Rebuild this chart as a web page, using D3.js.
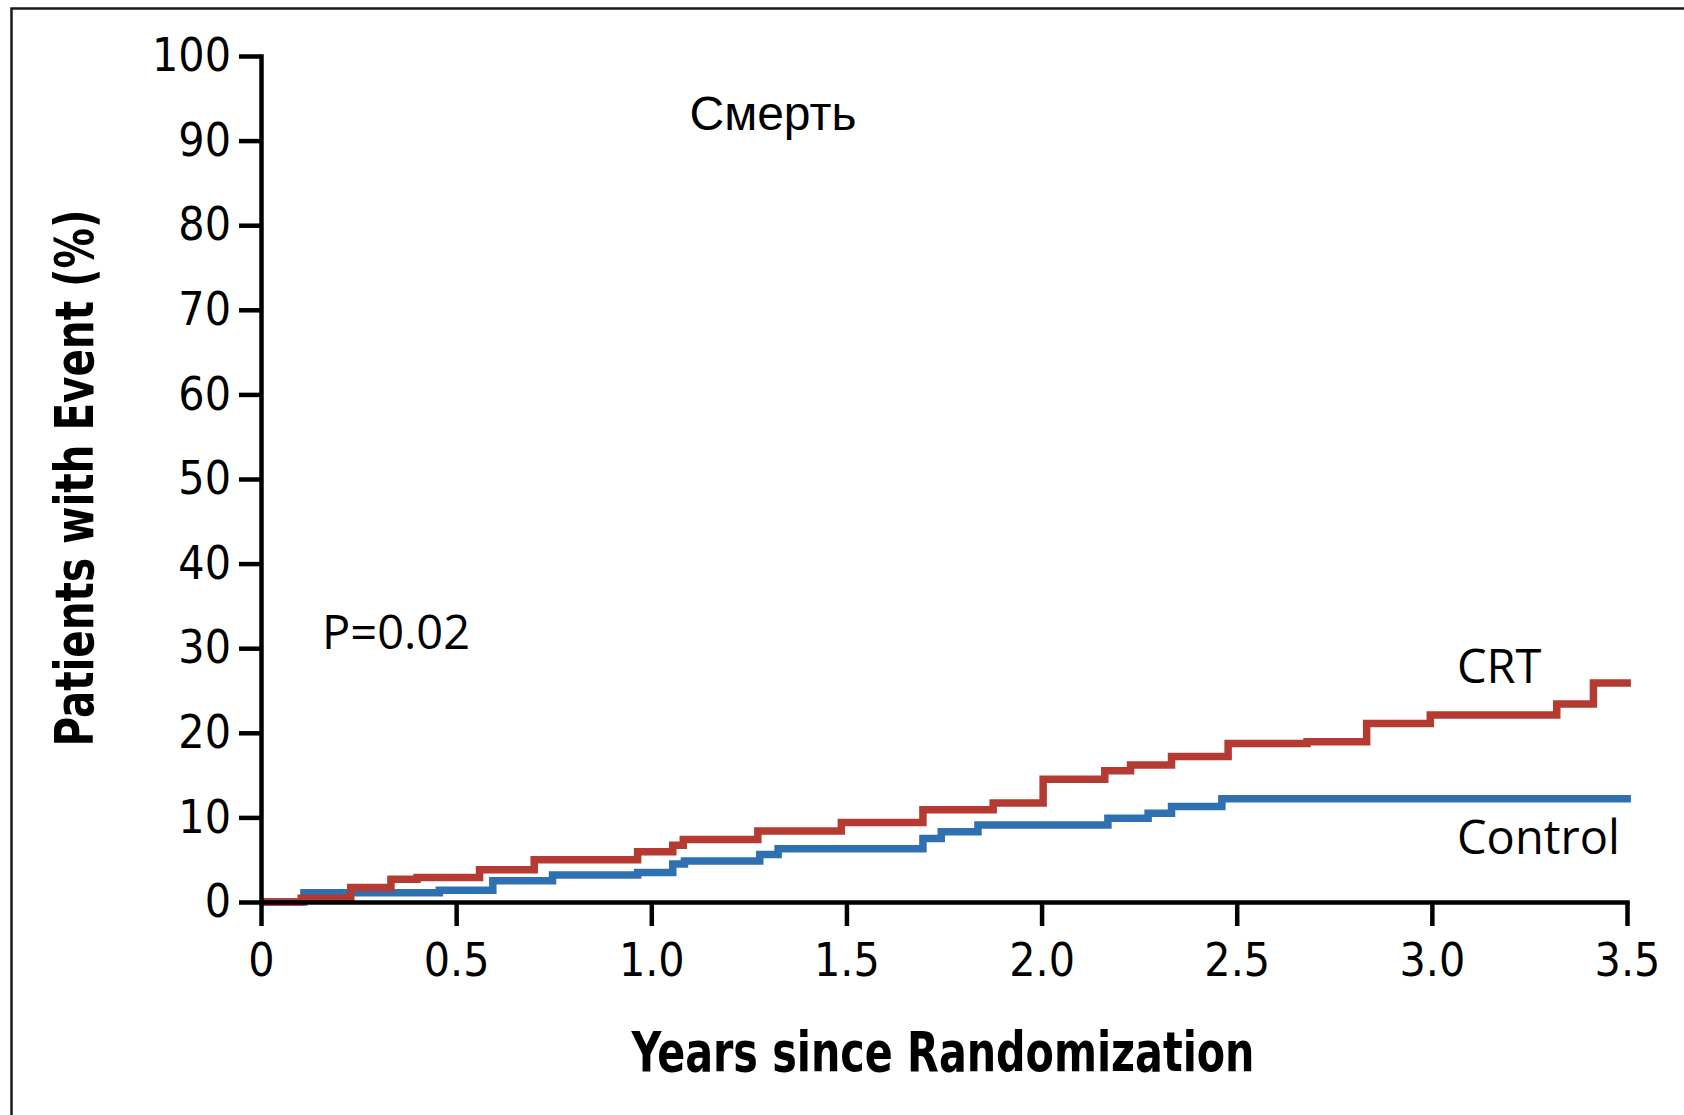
<!DOCTYPE html>
<html>
<head>
<meta charset="utf-8">
<script src="https://cdn.jsdelivr.net/npm/d3@7/dist/d3.min.js"></script>
<style>
  html, body { margin: 0; padding: 0; background: #fff; }
  svg { display: block; }
  .tick text { font-family: "DejaVu Sans Condensed", "DejaVu Sans", sans-serif; font-stretch: condensed; }
</style>
</head>
<body>
<svg id="chart" width="1684" height="1115"></svg>
<script>
// Cumulative event curves (Kaplan–Meier style steps): time in years, % of patients with event
const crtTimes   = [0, 0.103, 0.23, 0.333, 0.40, 0.56, 0.70, 0.965, 1.055, 1.082, 1.273, 1.487, 1.696, 1.876, 2.004, 2.162, 2.228, 2.333, 2.478, 2.68, 2.833, 2.996, 3.32, 3.414, 3.51];
const crtValues  = [0, 0.45, 1.7, 2.7, 2.9, 3.8, 5.0, 5.95, 6.7, 7.4, 8.4, 9.4, 10.9, 11.7, 14.5, 15.5, 16.2, 17.2, 18.75, 18.95, 21.1, 22.1, 23.4, 25.9, 25.9];
const controlTimes  = [0, 0.11, 0.457, 0.594, 0.747, 0.965, 1.055, 1.085, 1.278, 1.325, 1.696, 1.743, 1.837, 2.17, 2.273, 2.333, 2.462, 3.51];
const controlValues = [0, 1.1, 1.4, 2.5, 3.2, 3.5, 4.5, 4.85, 5.6, 6.3, 7.5, 8.3, 9.1, 9.9, 10.5, 11.3, 12.2, 12.2];

const xTicks = [0, 0.5, 1.0, 1.5, 2.0, 2.5, 3.0, 3.5];
const xTickLabels = ["0", "0.5", "1.0", "1.5", "2.0", "2.5", "3.0", "3.5"];
const yTicks = [0, 10, 20, 30, 40, 50, 60, 70, 80, 90, 100];

const seriesNames = ["CRT", "Control"];
const seriesColors = ["#b53a32", "#2f70b1"];

const svg = d3.select("#chart");

// frame (left and top edges)
svg.append("path")
  .attr("d", "M11.5,1115 L11.5,8.5 L1684,8.5")
  .attr("fill", "none").attr("stroke", "#1a1a1a").attr("stroke-width", 2.5);

const x = d3.scaleLinear().domain([0, 3.5]).range([261, 1627]);
const y = d3.scaleLinear().domain([0, 100]).range([902, 56]);

const line = d3.line()
  .x(d => x(d[0]))
  .y(d => y(d[1]))
  .curve(d3.curveStepAfter);

const series = [
  { name: seriesNames[1], color: seriesColors[1], pts: d3.zip(controlTimes, controlValues) },
  { name: seriesNames[0], color: seriesColors[0], pts: d3.zip(crtTimes, crtValues) }
];

svg.append("g").selectAll("path")
  .data(series)
  .join("path")
  .attr("d", d => line(d.pts))
  .attr("fill", "none")
  .attr("stroke", d => d.color)
  .attr("stroke-width", 7.5)
  .attr("stroke-linejoin", "miter")
  .attr("stroke-linecap", "butt");

// axes
const yAxis = d3.axisLeft(y).tickValues(yTicks).tickSize(22).tickSizeOuter(0).tickPadding(8);
const xAxis = d3.axisBottom(x).tickValues(xTicks).tickFormat((d, i) => xTickLabels[i]).tickSize(24).tickSizeOuter(0).tickPadding(17);

const gy = svg.append("g").attr("transform", "translate(261,0)").call(yAxis);
const gx = svg.append("g").attr("transform", "translate(0,902)").call(xAxis);

[gx, gy].forEach(g => {
  g.select(".domain").attr("stroke", "#000").attr("stroke-width", 4.5).attr("stroke-linecap", "square");
  g.selectAll(".tick line").attr("stroke", "#000").attr("stroke-width", 4.5);
  g.selectAll(".tick text").attr("fill", "#000").attr("font-size", 46);
});

// axis titles
svg.append("text")
  .attr("x", 943).attr("y", 1071)
  .attr("text-anchor", "middle")
  .attr("font-family", "'Liberation Sans Narrow', 'DejaVu Sans Condensed', sans-serif")
  .attr("font-weight", "bold").attr("font-size", 55)
  .attr("textLength", 623).attr("lengthAdjust", "spacingAndGlyphs")
  .text("Years since Randomization");

svg.append("text")
  .attr("transform", "translate(93,478) rotate(-90)")
  .attr("text-anchor", "middle")
  .attr("font-family", "'Liberation Sans Narrow', 'DejaVu Sans Condensed', sans-serif")
  .attr("font-weight", "bold").attr("font-size", 53)
  .attr("textLength", 537).attr("lengthAdjust", "spacingAndGlyphs")
  .text("Patients with Event (%)");

// chart title
svg.append("text")
  .attr("x", 773).attr("y", 130)
  .attr("text-anchor", "middle")
  .attr("font-family", "'Liberation Sans', Arial, sans-serif")
  .attr("font-size", 48)
  .text("Смерть");

// annotations
const annoFont = "'Open Sans', 'Noto Sans', sans-serif";
svg.append("text")
  .attr("x", 322).attr("y", 649)
  .attr("font-family", annoFont).attr("font-size", 47)
  .text("P=0.02");

svg.append("text")
  .attr("x", 1457).attr("y", 683)
  .attr("font-family", annoFont).attr("font-size", 47)
  .text(seriesNames[0]);

svg.append("text")
  .attr("x", 1457).attr("y", 854)
  .attr("font-family", annoFont).attr("font-size", 47)
  .text(seriesNames[1]);
</script>
</body>
</html>
